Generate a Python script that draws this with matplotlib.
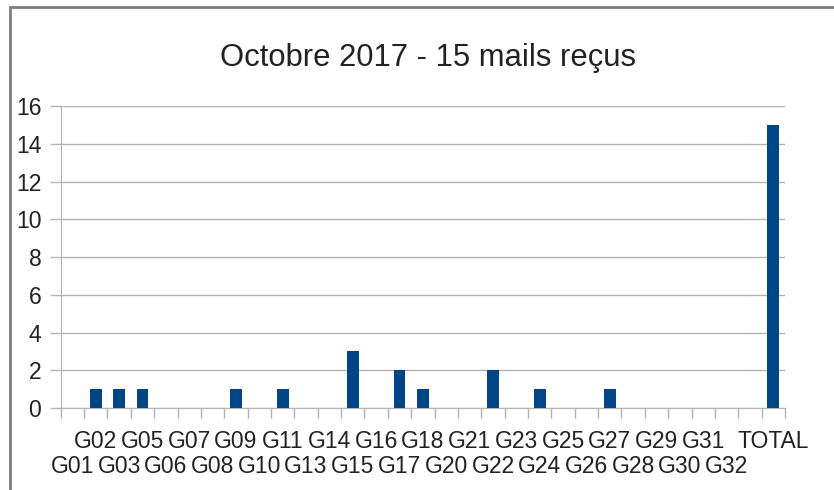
import matplotlib
matplotlib.use('Agg')
import matplotlib.pyplot as plt
from matplotlib.patches import Rectangle
import numpy as np

# mails per group, October 2017 (blank slot before the total)
groups = ['G01', 'G02', 'G03', 'G05', 'G06', 'G07', 'G08', 'G09', 'G10', 'G11',
          'G13', 'G14', 'G15', 'G16', 'G17', 'G18', 'G20', 'G21', 'G22', 'G23',
          'G24', 'G25', 'G26', 'G27', 'G28', 'G29', 'G30', 'G31', 'G32', '', 'TOTAL']
mails = [0, 1, 1, 1, 0, 0, 0, 1, 0, 1,
         0, 0, 3, 0, 2, 1, 0, 0, 2, 0,
         1, 0, 0, 1, 0, 0, 0, 0, 0, 0, 15]
y_ticks = [0, 2, 4, 6, 8, 10, 12, 14, 16]
title = 'Octobre 2017 - 15 mails reçus'

plt.rcParams['font.family'] = ['Liberation Sans', 'DejaVu Sans']
grid_col = '#b3b3b3'
text_col = '#222222'
label_size = 16.5

fig = plt.figure(figsize=(8.34, 4.9), dpi=100)
ax = fig.add_axes([60.7 / 834, 1 - 408 / 490, (785 - 60.7) / 834, (408 - 106) / 490])

x = np.arange(len(groups))
ax.bar(x, mails, width=0.5, color='#004586', zorder=3)

ax.set_xlim(-0.5, len(groups) - 0.5)
ax.set_ylim(0, 16)
ax.set_yticks(y_ticks)
ax.set_yticklabels([str(v) for v in y_ticks], fontsize=label_size, color=text_col)
ax.grid(axis='y', color=grid_col, linewidth=1, zorder=0)

# category ticks sit on the slot boundaries, labels drawn separately
ax.set_xticks(np.arange(len(groups) + 1) - 0.5)
ax.set_xticklabels([])
ax.tick_params(axis='x', length=7, color=grid_col, width=1)
ax.tick_params(axis='y', length=8, color=grid_col, width=1, pad=6)

# staggered category labels: odd slots (and TOTAL) on the first row
xt = ax.get_xaxis_transform()
for i, g in enumerate(groups):
    row_y = -0.1325 if (i % 2 == 1 or g == 'TOTAL') else -0.215
    ax.text(i, row_y, g, transform=xt, fontsize=label_size, color=text_col,
            ha='center', va='baseline')

for side in ['top', 'right']:
    ax.spines[side].set_visible(False)
ax.spines['left'].set_color(grid_col)
ax.spines['bottom'].set_color(grid_col)

fig.text(428 / 834, 1 - 58 / 490, title, fontsize=22.3, color=text_col,
         ha='center', va='center')

# outer frame of the chart object
fig.add_artist(Rectangle((10 / 834, -0.2), 1.2, 1 - 6.5 / 490 + 0.2,
                         transform=fig.transFigure, fill=False,
                         edgecolor='#7f7f7f', linewidth=2))

fig.savefig('out.png', dpi=100)
